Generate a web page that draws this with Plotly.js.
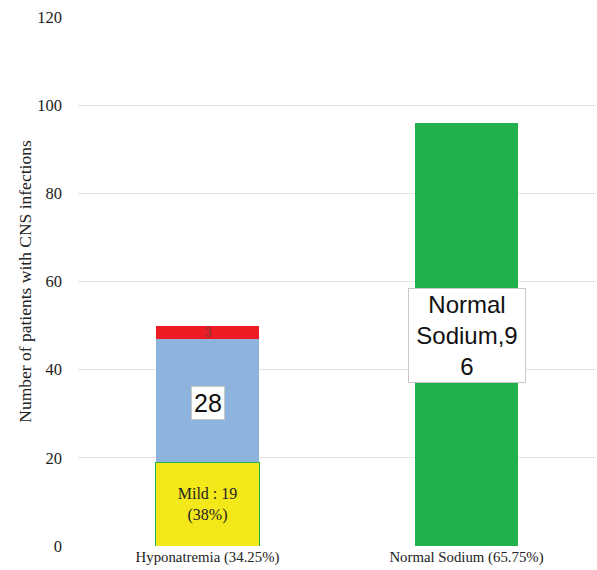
<!DOCTYPE html>
<html><head><meta charset="utf-8">
<script src="https://cdn.plot.ly/plotly-3.0.1.min.js"></script>
<style>html,body{margin:0;padding:0;background:#fff}</style>
</head><body>
<div id="chart" style="width:597px;height:570px"></div>
<script>
const categories = ["Hyponatremia (34.25%)", "Normal Sodium (65.75%)"];
const mildValues = [19, 0];
const moderateValues = [28, 0];
const severeValues = [3, 0];
const normalValues = [0, 96];
const mildLabels = ["Mild : 19<br>(38%)", ""];

const serif = "Liberation Serif, Times New Roman, serif";
const sans = "Liberation Sans, Arial, sans-serif";

const traces = [
  {type:"bar", x:categories, y:mildValues, width:0.4, name:"Mild",
   marker:{color:"#F2E81A", line:{color:"#22B14C", width:1}},
   text:mildLabels, textposition:"inside", insidetextanchor:"middle",
   constraintext:"none", textfont:{family:serif, size:16, color:"#222"}, hoverinfo:"none"},
  {type:"bar", x:categories, y:moderateValues, width:0.4, name:"Moderate",
   marker:{color:"#8EB4DE"}, hoverinfo:"none"},
  {type:"bar", x:categories, y:severeValues, width:0.4, name:"Severe",
   marker:{color:"#ED1C24"}, hoverinfo:"none"},
  {type:"bar", x:categories, y:normalValues, width:0.4, name:"Normal",
   marker:{color:"#22B14C"}, hoverinfo:"none"}
];

const layout = {
  barmode:"stack",
  showlegend:false,
  margin:{l:78, r:1, t:17, b:24},
  paper_bgcolor:"#fff", plot_bgcolor:"#fff",
  xaxis:{range:[-0.5,1.5], showgrid:false, zeroline:false, showline:false,
         tickfont:{family:serif, size:14.8, color:"#222"}, ticks:""},
  yaxis:{range:[0,120], dtick:20, showgrid:true, gridcolor:"#e3e3e3", gridwidth:1,
         zeroline:false, showline:false, ticks:"", ticklabelstandoff:15,
         tickfont:{family:serif, size:16.5, color:"#222"},
         title:{text:"Number of patients with CNS infections", font:{family:serif, size:17.5, color:"#222"}, standoff:1}},
  annotations:[
    {x:categories[0], y:moderateValues[0]/2 + mildValues[0] - 0.5, xref:"x", yref:"y",
     text:String(moderateValues[0]), showarrow:false,
     font:{family:sans, size:25, color:"#111"}, bgcolor:"#fff", bordercolor:"#c8c8c8", borderwidth:1, borderpad:2},
    {x:categories[0], y:mildValues[0]+moderateValues[0]+severeValues[0]/2, xref:"x", yref:"y",
     text:String(severeValues[0]), showarrow:false,
     font:{family:sans, size:14, color:"#8a3434"}},
    {x:categories[1], y:47.8, xref:"x", yref:"y",
     text:"", showarrow:false, width:112,
     font:{family:sans, size:24, color:"#111"}, bgcolor:"#fff", bordercolor:"#c8c8c8", borderwidth:1, borderpad:2}
  ]
};
layout.annotations[2].text = "Normal<br>Sodium," + String(normalValues[1]).slice(0,1) + "<br>" + String(normalValues[1]).slice(1);

Plotly.newPlot("chart", traces, layout, {displayModeBar:false, staticPlot:true});
</script>
</body></html>
